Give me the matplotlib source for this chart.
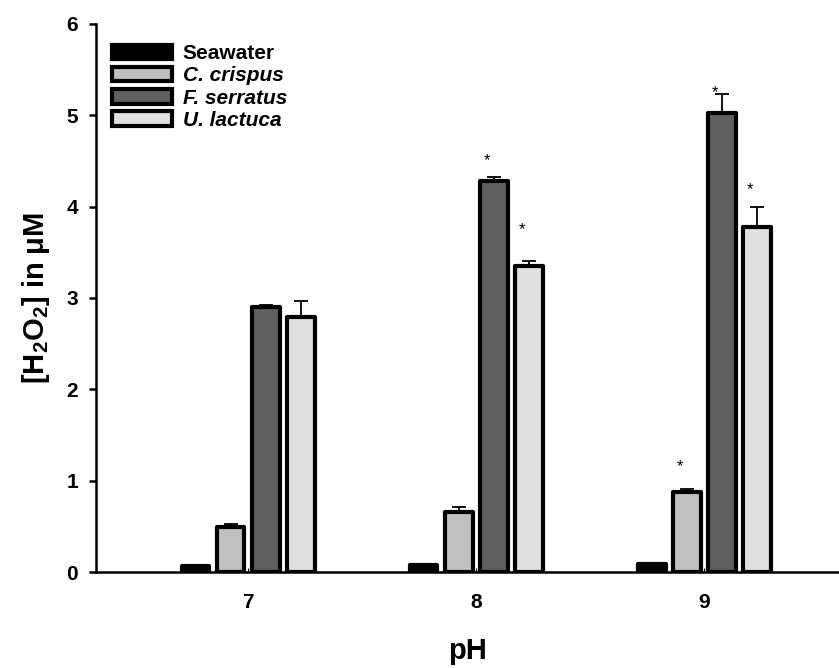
import matplotlib
matplotlib.use("Agg")
import matplotlib.pyplot as plt
import numpy as np
from matplotlib.patches import Patch

plt.rcParams['font.family'] = ['Liberation Sans', 'DejaVu Sans']
plt.rcParams['mathtext.fontset'] = 'custom'
plt.rcParams['mathtext.rm'] = 'Liberation Sans:bold'
plt.rcParams['mathtext.it'] = 'Liberation Sans:bold:italic'
plt.rcParams['mathtext.bf'] = 'Liberation Sans:bold'
plt.rcParams['mathtext.default'] = 'regular'

# ---- data ----
ph_values = [7, 8, 9]
series_names = ['Seawater', 'C. crispus', 'F. serratus', 'U. lactuca']
seawater = [0.07, 0.08, 0.09]
c_crispus = [0.49, 0.66, 0.88]
f_serratus = [2.90, 4.28, 5.03]
u_lactuca = [2.79, 3.35, 3.78]
seawater_err = [0.0, 0.0, 0.0]
c_crispus_err = [0.04, 0.05, 0.03]
f_serratus_err = [0.02, 0.04, 0.20]
u_lactuca_err = [0.18, 0.05, 0.22]
# significance stars: (pH, series index, y position)
star_ph = [8, 8, 9, 9, 9]
star_series = [2, 3, 1, 2, 3]
star_y = [4.50, 3.75, 1.15, 5.25, 4.19]

values = [seawater, c_crispus, f_serratus, u_lactuca]
errors = [seawater_err, c_crispus_err, f_serratus_err, u_lactuca_err]
colors = ['#000000', '#c0c0c0', '#606060', '#e0e0e0']

fig = plt.figure(figsize=(8.39, 6.68), dpi=100)
ax = fig.add_axes([0.1144, 0.1437, 0.8856, 0.8204])

step = 0.154
width = 0.122
x = np.array(ph_values, dtype=float)
offsets = [-1.5 * step, -0.5 * step, 0.5 * step, 1.5 * step]

for i in range(4):
    xs = x + offsets[i]
    bars = ax.bar(xs, values[i], width=width, color=colors[i], edgecolor='black',
                  linewidth=3.0, zorder=3)
    for b in bars:
        b.set_joinstyle('round')
    err = np.array(errors[i])
    if err.sum() > 0:
        ax.errorbar(xs, values[i], yerr=[np.zeros_like(err), err], fmt='none',
                    ecolor='black', elinewidth=1.3, capsize=5, capthick=1.3, zorder=2)

for p, s, y in zip(star_ph, star_series, star_y):
    ax.text(p + offsets[s] - 0.03, y, '*', ha='center', va='center', fontsize=12,
            color='black')

ax.set_xlim(6.333, 9.59)
ax.set_ylim(0, 6)
ax.set_xticks(ph_values)
ax.set_xticklabels([str(v) for v in ph_values], fontsize=15, fontweight='bold')
ax.set_yticks(range(7))
ax.set_yticklabels([str(v) for v in range(7)], fontsize=15, fontweight='bold')
ax.tick_params(axis='y', direction='out', length=5, width=1.8, pad=8)
ax.tick_params(axis='x', direction='in', length=3, width=0.8, pad=15)

ax.spines['top'].set_visible(False)
ax.spines['right'].set_visible(False)
ax.spines['left'].set_linewidth(1.8)
ax.spines['bottom'].set_linewidth(1.8)

ax.set_xlabel('pH', fontsize=21, fontweight='bold', labelpad=18)
ax.set_ylabel('[H$_2$O$_2$] in \u03bcM', fontsize=21, fontweight='bold', labelpad=10)

handles = [Patch(facecolor=colors[i], edgecolor='black', linewidth=3.0, joinstyle='round')
           for i in range(4)]
leg = ax.legend(handles, series_names, loc='upper left', bbox_to_anchor=(0.01, 0.978),
                frameon=False, fontsize=15, handlelength=2.9, handleheight=0.7,
                handletextpad=0.5, labelspacing=0.15, borderaxespad=0.0)
for j, t in enumerate(leg.get_texts()):
    t.set_fontweight('bold')
    if j > 0:
        t.set_fontstyle('italic')

fig.savefig('out.png', dpi=100)
